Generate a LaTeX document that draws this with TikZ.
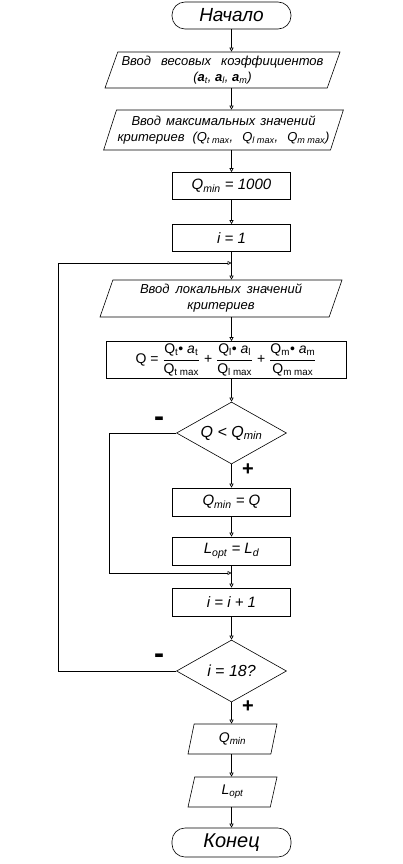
\documentclass[tikz,border=0pt]{standalone}
\usepackage{amsmath}
\usepackage{fontspec}
\setmainfont{Liberation Sans}
\usetikzlibrary{arrows.meta, positioning, shapes.geometric}

\begin{document}
\begin{tikzpicture}[
    x=1pt, y=-1pt, >={Triangle[open, length=4pt, width=4pt]},
    line width=0.6pt,
    term/.style={draw, rounded corners=13pt, minimum width=119pt, minimum height=27pt, inner sep=0pt, font=\itshape\fontsize{19}{22}\selectfont},
    proc/.style={draw, minimum width=118pt, minimum height=27pt, inner sep=0pt, font=\itshape\fontsize{15}{18}\selectfont},
    io/.style={draw, trapezium, trapezium left angle=67, trapezium right angle=113, trapezium stretches body, inner sep=1pt, font=\itshape\fontsize{13}{16}\selectfont, align=center},
    cond/.style={draw, diamond, aspect=1.77, minimum width=110pt, minimum height=62pt, inner sep=0pt, font=\itshape\fontsize{16}{18}\selectfont},
    sign/.style={font=\bfseries\fontsize{20}{20}\selectfont, inner sep=0pt}
]
\useasboundingbox (0,0) rectangle (402,864);

% blocks
\node[term] (start) at (231.5,15.5) {Начало};
\node[io, minimum width=235pt, minimum height=36pt] (in1) at (222.5,70)
    {\makebox[202pt][s]{Ввод весовых коэффициентов}\\(\textbf{a}\textsubscript{t}, \textbf{a}\textsubscript{l}, \textbf{a}\textsubscript{m})};
\node[io, minimum width=233pt, minimum height=40pt] (in2) at (223.5,130)
    {\makebox[184pt][s]{Ввод максимальных значений}\\\makebox[212pt][s]{критериев (Q\textsubscript{t max}, Q\textsubscript{l max}, Q\textsubscript{m max})}};
\node[proc] (qinit) at (231.5,186) {Q\textsubscript{min} = 1000};
\node[proc] (iinit) at (231.5,238) {i = 1};
\coordinate (j1) at (231.5,263);
\node[io, minimum width=242pt, minimum height=37pt] (in3) at (221,298.5)
    {\makebox[162pt][s]{Ввод локальных значений}\\критериев};
\node[draw, minimum width=240pt, minimum height=37pt, inner sep=0pt, font=\fontsize{14}{16}\selectfont] (calc) at (226,360)
    {Q = $\dfrac{\text{Q\textsubscript{t}• \textit{a}\textsubscript{t}}}{\text{Q\textsubscript{t max}}}$
     + $\dfrac{\text{Q\textsubscript{l}• \textit{a}\textsubscript{l}}}{\text{Q\textsubscript{l max}}}$
     + $\dfrac{\text{Q\textsubscript{m}• \textit{a}\textsubscript{m}}}{\text{Q\textsubscript{m max}}}$};
\node[cond] (cmp1) at (231.5,433) {Q < Q\textsubscript{min}};
\node[proc, minimum height=28pt] (qset) at (231.5,502) {Q\textsubscript{min} = Q};
\node[proc, minimum height=28pt] (lset) at (231.5,551) {L\textsubscript{opt} = L\textsubscript{d}};
\coordinate (j2) at (231.5,573);
\node[proc, minimum height=28pt] (inc) at (231.5,602) {i = i + 1};
\node[cond] (cmp2) at (231.5,671) {i = 18?};
\node[io, minimum width=89pt, minimum height=30pt, font=\itshape\fontsize{14}{16}\selectfont] (outq) at (232.5,739) {Q\textsubscript{min}};
\node[io, minimum width=89pt, minimum height=30pt, font=\itshape\fontsize{14}{16}\selectfont] (outl) at (232.5,792) {L\textsubscript{opt}};
\node[term, minimum height=29pt, font=\itshape\fontsize{20}{22}\selectfont] (stop) at (231.5,842.5) {Конец};

% signs
\node[sign] (no1) at (159,422) {\scalebox{1.5}[1.5]{-}};
\node[sign] (yes1) at (248,470) {+};
\node[sign] (no2) at (159,659) {\scalebox{1.5}[1.5]{-}};
\node[sign] (yes2) at (248,707) {+};

% connectors
\draw[->] (start) -- (start |- in1.north);
\draw[->] (start |- in1.south) -- (start |- in2.north);
\draw[->] (start |- in2.south) -- (qinit);
\draw[->] (qinit) -- (iinit);
\draw (iinit) -- (j1);
\draw[->] (j1) -- (j1 |- in3.north);
\draw[->] (j1 |- in3.south) -- (j1 |- calc.north);
\draw[->] (j1 |- calc.south) -- (cmp1);
\draw[->] (cmp1) -- (qset);
\draw[->] (qset) -- (lset);
\draw (lset) -- (j2);
\draw[->] (j2) -- (inc);
\draw[->] (inc) -- (cmp2);
\draw[->] (cmp2) -- (j1 |- outq.north);
\draw[->] (j1 |- outq.south) -- (j1 |- outl.north);
\draw[->] (j1 |- outl.south) -- (stop);
\draw[->] (cmp1.west) -- ++(-67,0) |- (j2);
\draw[->] (cmp2.west) -- ++(-118,0) |- (j1);

\end{tikzpicture}
\end{document}
